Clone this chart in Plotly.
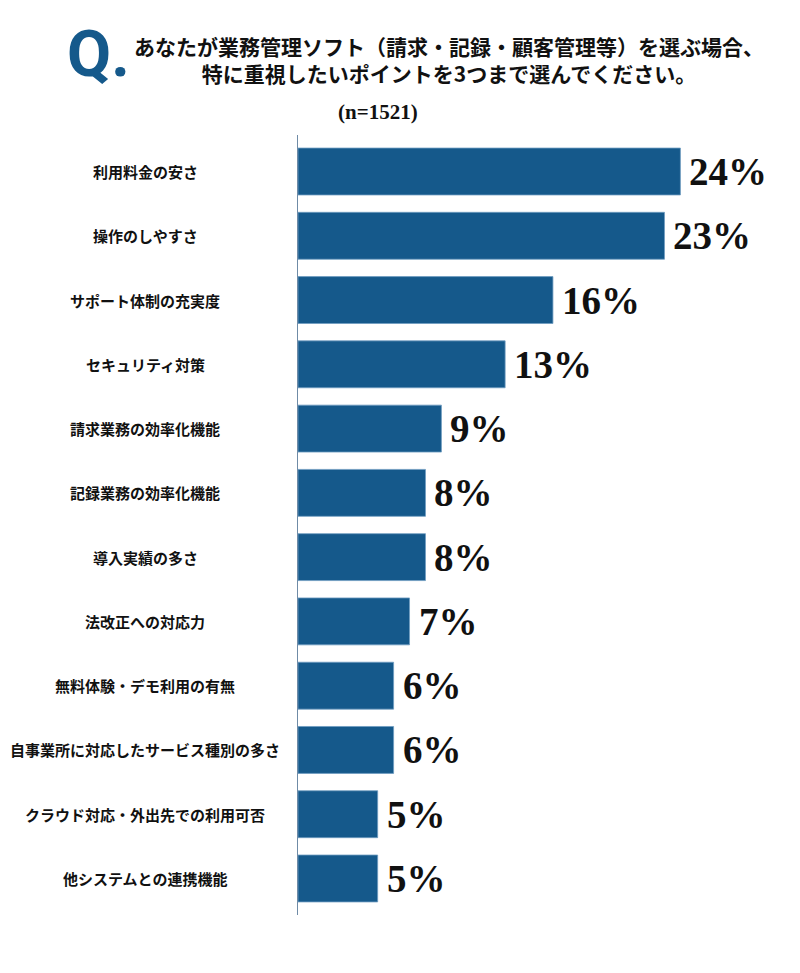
import plotly.graph_objects as go

# Survey data (n=1521)
categories = [
    "利用料金の安さ",
    "操作のしやすさ",
    "サポート体制の充実度",
    "セキュリティ対策",
    "請求業務の効率化機能",
    "記録業務の効率化機能",
    "導入実績の多さ",
    "法改正への対応力",
    "無料体験・デモ利用の有無",
    "自事業所に対応したサービス種別の多さ",
    "クラウド対応・外出先での利用可否",
    "他システムとの連携機能",
]
values = [24, 23, 16, 13, 9, 8, 8, 7, 6, 6, 5, 5]
value_labels = [f"{v}%" for v in values]

title_line1 = "あなたが業務管理ソフト（請求・記録・顧客管理等）を選ぶ場合、"
title_line2 = "特に重視したいポイントを3つまで選んでください。"
sample_note = "(n=1521)"

BAR_COLOR = "#15598b"
JP_FONT = "Noto Sans CJK JP"
SERIF = "Liberation Serif"

# page body has an 8px margin, so the figure sits 8px in from the window edge
OFF = 8
W, H = 792, 957
ml, mr, mt, mb = 290, 23.5, 127, 50
pw, ph = W - ml - mr, H - mt - mb


def px_x(x):
    return (x - OFF - ml) / pw


def px_y(y):
    return 1 + (mt - (y - OFF)) / ph


fig = go.Figure(
    go.Bar(
        x=values,
        y=categories,
        orientation="h",
        width=0.73,
        marker=dict(color=BAR_COLOR, line=dict(color="#6f9cc0", width=0.8)),
        hoverinfo="skip",
    )
)

# value labels to the right of each bar
for cat, v, lab in zip(categories, values, value_labels):
    fig.add_annotation(
        x=v, y=cat, xref="x", yref="y",
        text=f"<b>{lab}</b>", showarrow=False,
        xanchor="left", xshift=7,
        font=dict(family=SERIF, size=39, color="#111111"),
    )

# category labels, centred in the left margin
for cat in categories:
    fig.add_annotation(
        x=px_x(145), y=cat, xref="paper", yref="y",
        text=f"<b>{cat}</b>", showarrow=False,
        xanchor="center",
        font=dict(family=JP_FONT, size=15, color="#111111"),
    )

# title block
fig.add_annotation(
    x=px_x(98), y=px_y(55), xref="paper", yref="paper",
    text="<b>Q.</b>", showarrow=False, xanchor="center", yanchor="middle",
    font=dict(family="Roboto", size=64, color=BAR_COLOR),
)
fig.add_annotation(
    x=px_x(449), y=px_y(60), xref="paper", yref="paper",
    text=f"<b>{title_line1}<br>{title_line2}</b>", showarrow=False,
    xanchor="center", yanchor="middle", align="center",
    font=dict(family=JP_FONT, size=21, color="#111111"),
)
fig.add_annotation(
    x=px_x(378), y=px_y(112), xref="paper", yref="paper",
    text=f"<b>{sample_note}</b>", showarrow=False,
    xanchor="center", yanchor="middle",
    font=dict(family=SERIF, size=21, color="#111111"),
)

fig.update_layout(
    width=W, height=H,
    margin=dict(l=ml, r=mr, t=mt, b=mb),
    paper_bgcolor="white", plot_bgcolor="white",
    showlegend=False,
    xaxis=dict(range=[0, 30], visible=False, fixedrange=True),
    yaxis=dict(
        range=[11.568, -0.568],
        showticklabels=False, ticks="",
        showgrid=False, zeroline=False,
        showline=True, linecolor="#6f8ba6", linewidth=1.2,
        fixedrange=True,
    ),
)

fig.write_html("out.html", config={"displayModeBar": False})
